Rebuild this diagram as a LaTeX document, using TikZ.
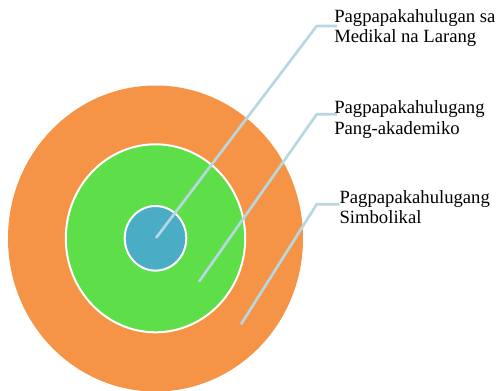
\documentclass[tikz,border=0pt]{standalone}
\usepackage{fontspec}
\setmainfont{Liberation Serif}
\definecolor{ringOrange}{RGB}{245,148,70}
\definecolor{ringGreen}{RGB}{94,222,72}
\definecolor{ringBlue}{RGB}{74,172,197}
\definecolor{leaderBlue}{RGB}{183,215,225}
\tikzset{
	ring/.style={draw=white, line width=1.5pt},
	leader/.style={color=leaderBlue, line width=2pt, line join=round},
	lbl/.style={anchor=north west, inner sep=0pt, align=left, font=\fontsize{14}{15.4}\selectfont}
}

\begin{document}
\begin{tikzpicture}[x=0.75pt,y=0.75pt,yscale=-1,xscale=1]
	\useasboundingbox (0,0) rectangle (499,390);
	\clip (0,0) rectangle (499,390);
	% rings
	\fill [ringOrange] (155.5,238.5) ellipse [x radius=147.5, y radius=153];
	\draw [ring, fill=ringGreen] (155.5,238.3) ellipse [x radius=89.7, y radius=94];
	\draw [ring, fill=ringBlue] (155.5,238.3) ellipse [x radius=30.8, y radius=32.3];
	% labels
	\node [lbl] (medikal) at (334,9) {Pagpapakahulugan sa\\Medikal na Larang};
	\node [lbl] (akademiko) at (334,100.5) {Pagpapakahulugang\\Pang-akademiko};
	\node [lbl] (simbolikal) at (339.3,190) {Pagpapakahulugang\\Simbolikal};
	% leader lines
	\coordinate (p1) at (156,238);
	\coordinate (p2) at (199,281.7);
	\coordinate (p3) at (241,324.3);
	\coordinate (k1) at (316.7,26);
	\coordinate (k2) at (316.7,114.3);
	\coordinate (k3) at (316.7,204.3);
	\draw [leader] (p1) -- (k1) -- (k1 -| medikal.west) -- ++(3,0);
	\draw [leader] (p2) -- (k2) -- (k2 -| akademiko.west) -- ++(3,0);
	\draw [leader] (p3) -- (k3) -- (k3 -| simbolikal.west);
\end{tikzpicture}
\end{document}
